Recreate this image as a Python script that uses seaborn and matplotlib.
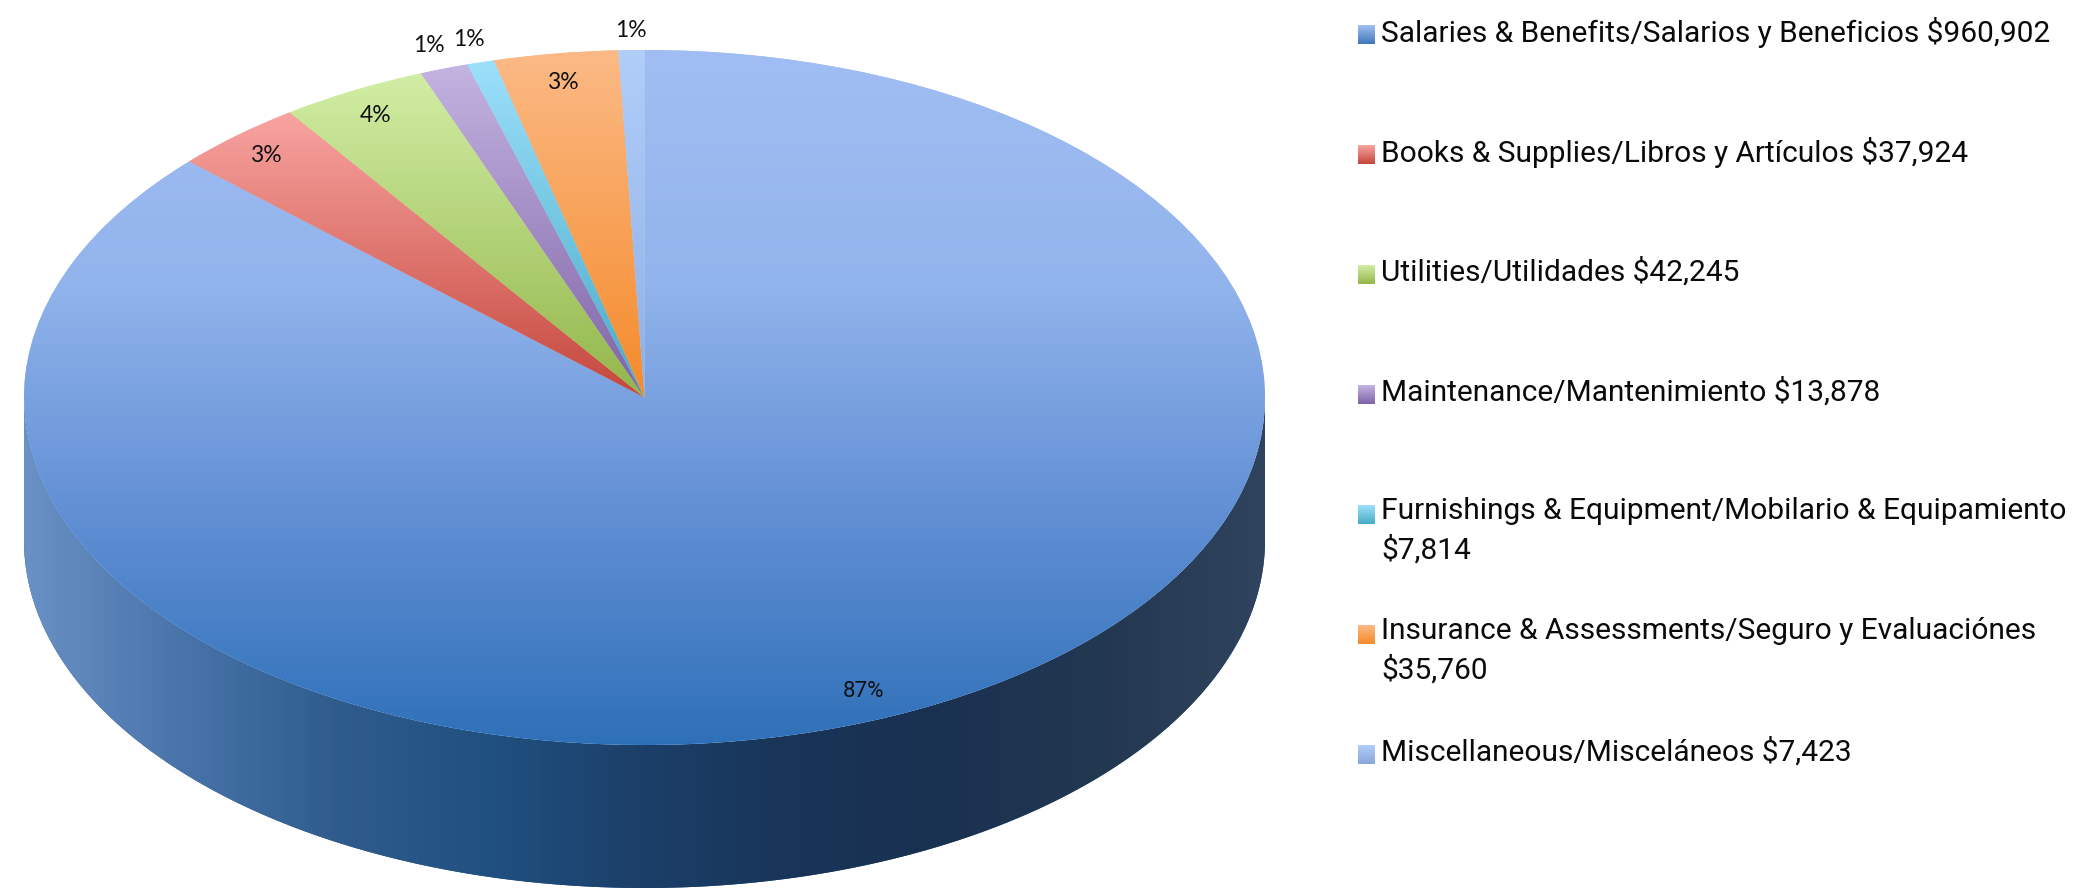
import numpy as np
import seaborn as sns
import matplotlib
matplotlib.use("Agg")
import matplotlib.pyplot as plt
from matplotlib.patches import PathPatch
from matplotlib.path import Path

sns.set_theme(style="white")

# data
categories = ["Salaries & Benefits/Salarios y Beneficios", "Books & Supplies/Libros y Artículos",
              "Utilities/Utilidades", "Maintenance/Mantenimiento",
              "Furnishings & Equipment/Mobilario & Equipamiento",
              "Insurance & Assessments/Seguro y Evaluaciónes", "Miscellaneous/Misceláneos"]
amounts = [960902, 37924, 42245, 13878, 7814, 35760, 7423]
pct_labels = ["87%", "3%", "4%", "1%", "1%", "3%", "1%"]

# colours, top of the slice to bottom of the slice
slice_colors = [["#A0BEF3", "#92B4EC", "#618FD4", "#2E70B8"],
                ["#F9A4A1", "#C4473C"],
                ["#D2EEA5", "#93B64A"],
                ["#C4B4E1", "#7F63A6"],
                ["#9DE0FC", "#48ABC5"],
                ["#FBBA86", "#F58A2A"],
                ["#B1CEF9", "#8FB0E6"]]
swatch_colors = [["#A0BEF3", "#3E78B8"], ["#F9A4A1", "#C4473C"], ["#D2EEA5", "#93B64A"],
                 ["#C4B4E1", "#7F63A6"], ["#9DE0FC", "#48ABC5"], ["#FBBA86", "#F58A2A"],
                 ["#B1CEF9", "#8AA6D8"]]
side_colors = ["#6A90C4", "#4874AA", "#2F5C8D", "#205080", "#1B3F68",
               "#183457", "#1A3150", "#233850", "#30435E"]

# layout, in pixels of the 2074x890 picture
W, H = 2074, 890
cx, cy, rx, ry = 644.5, 397.5, 620.5, 347.5
depth = 143 / ry
label_radii = [0.92, 0.93, 0.925, 1.075, 1.073, 0.919, 1.06]
wrapped = [4, 5]
legend_font = ["Roboto", "DejaVu Sans"]

fig = plt.figure(figsize=(W / 100, H / 100), dpi=100, facecolor="white")
ax = fig.add_axes([0, 0, 1, 1])
wedges, texts, autotexts = ax.pie(amounts, colors=[c[0] for c in slice_colors], startangle=90,
                                  counterclock=False, autopct="%1.0f%%", pctdistance=0.9,
                                  wedgeprops={"linewidth": 0})
xlim = (-cx / rx, (W - cx) / rx)
ylim = ((cy - H) / ry, cy / ry)


def gradient(colors, extent, clip, horizontal=False, zorder=2):
    cmap = sns.blend_palette(colors, n_colors=256, as_cmap=True)
    ramp = np.linspace(0, 1, 256)
    ramp = ramp[None, :] if horizontal else ramp[:, None]
    im = ax.imshow(ramp, cmap=cmap, extent=extent, origin="upper", aspect="auto",
                   interpolation="bilinear", zorder=zorder, vmin=0, vmax=1)
    im.set_clip_path(clip)
    return im


# rim of the disc
th = np.linspace(np.pi, 2 * np.pi, 400)
rim = np.vstack([np.c_[np.cos(th), np.sin(th) - depth],
                 np.c_[np.cos(th[::-1]), np.sin(th[::-1])],
                 [np.cos(th[0]), np.sin(th[0]) - depth]])
side = PathPatch(Path(rim, closed=True), facecolor=side_colors[3], edgecolor="none", zorder=1)
ax.add_patch(side)
gradient(side_colors, (-1, 1, -1 - depth, 1), side, horizontal=True, zorder=1)

# slices, each with its own top to bottom shading
for w, cols in zip(wedges, slice_colors):
    w.set_zorder(2)
    verts = w.get_patch_transform().transform(w.get_path().vertices)
    x0, x1 = verts[:, 0].min(), verts[:, 0].max()
    y0, y1 = verts[:, 1].min(), verts[:, 1].max()
    gradient(cols, (x0, x1, y0, y1), w, zorder=3)

# percent labels
for w, t, s, r in zip(wedges, autotexts, pct_labels, label_radii):
    mid = np.deg2rad((w.theta1 + w.theta2) / 2)
    nudge = -0.016 if s == "87%" else 0
    t.set_position((r * np.cos(mid) + nudge, r * np.sin(mid) - 0.004))
    t.set_text(s)
    t.set_color("#111111")
    t.set_zorder(5)
    t.set_ha("center")
    t.set_va("center")
    if s == "87%":
        t.set_fontfamily(legend_font)
        t.set_fontsize(16)
    else:
        t.set_fontfamily(["Lato", "DejaVu Sans"])
        t.set_fontsize(16.5)

ax.set_aspect("auto")
ax.set_xlim(xlim)
ax.set_ylim(ylim)
ax.axis("off")

# legend, drawn in picture pixels
lax = fig.add_axes([0, 0, 1, 1], facecolor="none")
for i, (name, amount, cols) in enumerate(zip(categories, amounts, swatch_colors)):
    y = 32 + i * 120
    cmap = sns.blend_palette(cols, n_colors=64, as_cmap=True)
    lax.imshow(np.linspace(0, 1, 64)[:, None], cmap=cmap, aspect="auto", zorder=2,
               extent=(1358, 1375, y + 12, y - 7))
    sep = "\n" if i in wrapped else " "
    lax.text(1381, y - 15, f"{name}{sep}${amount:,}", family=legend_font, fontsize=21.5, color="#0A0A0A",
             va="top", ha="left", linespacing=1.43)
lax.set_xlim(0, W)
lax.set_ylim(H, 0)
lax.axis("off")

fig.savefig("out.png", dpi=100, facecolor="white")
